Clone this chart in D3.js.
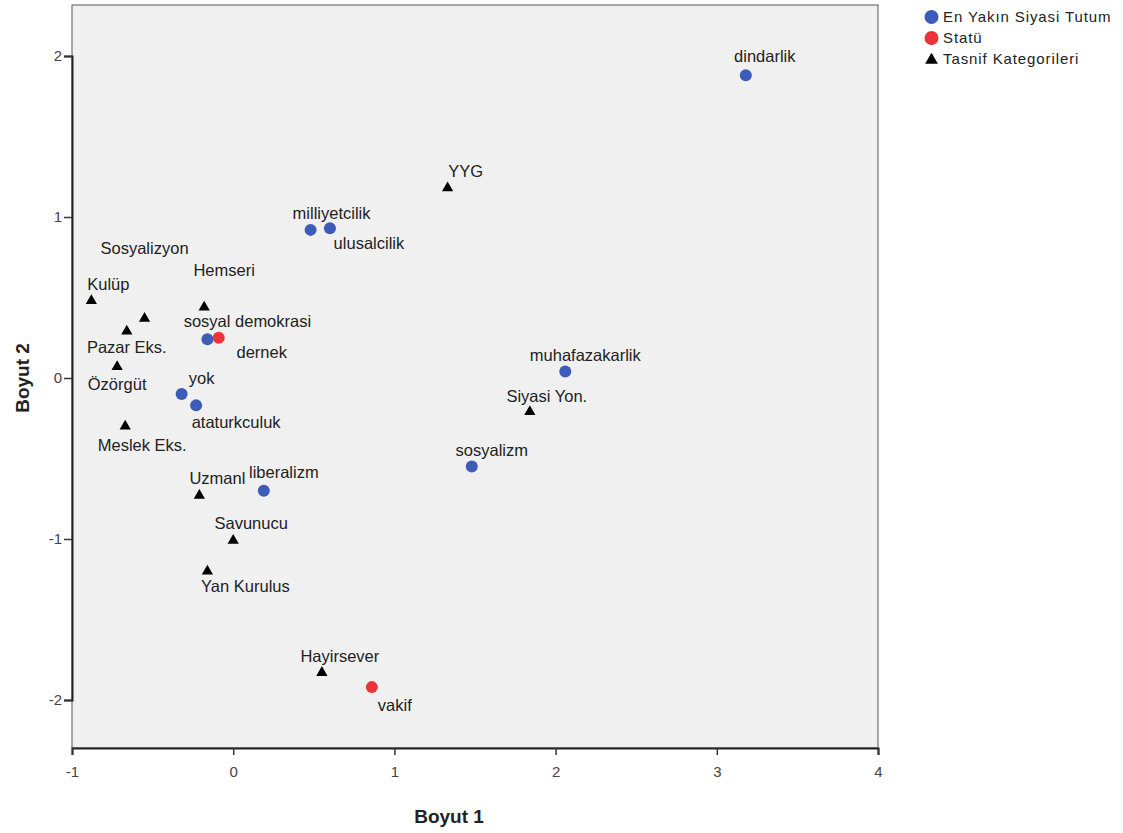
<!DOCTYPE html>
<html><head><meta charset="utf-8">
<script src="https://cdn.jsdelivr.net/npm/d3@7"></script>
<style>body{margin:0;background:#fff;} text{font-family:"Liberation Sans",Arial,sans-serif;}</style>
</head><body><svg id="c" width="1123" height="833"></svg>
<script>
// Data
const tutumNames = ["dindarlik","milliyetcilik","ulusalcilik","sosyal demokrasi","yok","ataturkculuk","liberalizm","muhafazakarlik","sosyalizm"];
const tutumX = [3.18,0.48,0.60,-0.16,-0.32,-0.23,0.19,2.06,1.48];
const tutumY = [1.88,0.92,0.93,0.24,-0.10,-0.17,-0.70,0.04,-0.55];
const statuNames = ["dernek","vakif"];
const statuX = [-0.09,0.86];
const statuY = [0.25,-1.92];
const tasnifNames = ["YYG","Hemseri","Kulüp","Sosyalizyon","Pazar Eks.","Özörgüt","Meslek Eks.","Siyasi Yon.","Uzmanl","Savunucu","Yan Kurulus","Hayirsever"];
const tasnifX = [1.33,-0.18,-0.88,-0.55,-0.66,-0.72,-0.67,1.84,-0.21,0.00,-0.16,0.55];
const tasnifY = [1.18,0.44,0.48,0.37,0.29,0.07,-0.30,-0.21,-0.73,-1.01,-1.20,-1.83];
const xTicks = [-1,0,1,2,3,4];
const yTicks = [-2,-1,0,1,2];
const legendLabels = ["En Yakın Siyasi Tutum","Statü","Tasnif Kategorileri"];

// label placement offsets (px, label centre relative to mark)
const tutumLabelOff = [[19,-19],[21,-17],[39,15],[40,-18],[20,-16],[40,17],[20,-19],[20,-17],[20,-17]];
const statuLabelOff = [[43,14],[23,18]];
const tasnifLabelOff = [[18,-17],[20,-37],[17,-17],[0,-70],[0,16],[0,17],[17,19],[17,-16],[18,-18],[18,-18],[38,15],[18,-17]];

const svg = d3.select("#c");
const L=72, R=878, T=5, B=748;
const x = d3.scaleLinear().domain([-1,4]).range([L,R]);
const y = d3.scaleLinear().domain([-2,2]).range([700,56]);

svg.append("rect").attr("x",L).attr("y",T).attr("width",R-L).attr("height",B-T).attr("fill","#f0f0f0").attr("stroke","#555").attr("stroke-width",1);

const fmt = d => String(d);
const xa = svg.append("g").attr("transform",`translate(0,${B})`).call(d3.axisBottom(x).tickValues(xTicks).tickSize(7).tickPadding(11).tickFormat(fmt));
const ya = svg.append("g").attr("transform",`translate(${L},0)`).call(d3.axisLeft(y).tickValues(yTicks).tickSize(8).tickPadding(2).tickFormat(fmt));
[xa,ya].forEach(a=>{a.select(".domain").attr("stroke","#222").attr("stroke-width",2);a.selectAll(".tick line").attr("stroke","#333").attr("stroke-width",1.5);a.selectAll(".tick text").attr("fill","#444").attr("font-size",15).attr("font-family","Liberation Sans, Arial, sans-serif");});

svg.append("text").attr("x",449).attr("y",823).attr("text-anchor","middle").attr("font-size",19).attr("font-weight","bold").attr("fill","#222").text("Boyut 1");
svg.append("text").attr("transform","translate(29,378) rotate(-90)").attr("text-anchor","middle").attr("font-size",19).attr("font-weight","bold").attr("fill","#222").text("Boyut 2");

const BLUE="#3d5bb8", RED="#ee3239";
const tri = d3.symbol().type(d3.symbolTriangle).size(55);

function labels(names,xs,ys,off){
  svg.append("g").selectAll("text").data(names).join("text")
    .attr("x",(d,i)=>x(xs[i])+off[i][0]).attr("y",(d,i)=>y(ys[i])+off[i][1]+6)
    .attr("text-anchor","middle").attr("font-size",16.5).attr("fill","#222").text(d=>d);
}
svg.append("g").selectAll("path").data(tasnifNames).join("path").attr("d",tri)
  .attr("transform",(d,i)=>`translate(${x(tasnifX[i])},${y(tasnifY[i])})`).attr("fill","#000");
svg.append("g").selectAll("circle").data(tutumNames).join("circle")
  .attr("cx",(d,i)=>x(tutumX[i])).attr("cy",(d,i)=>y(tutumY[i])).attr("r",6).attr("fill",BLUE);
svg.append("g").selectAll("circle").data(statuNames).join("circle")
  .attr("cx",(d,i)=>x(statuX[i])).attr("cy",(d,i)=>y(statuY[i])).attr("r",6).attr("fill",RED);
labels(tutumNames,tutumX,tutumY,tutumLabelOff);
labels(statuNames,statuX,statuY,statuLabelOff);
labels(tasnifNames,tasnifX,tasnifY,tasnifLabelOff);

// legend
const lg = svg.append("g");
const lyy=[17,38,59];
legendLabels.forEach((t,i)=>{
  if(i<2) lg.append("circle").attr("cx",931.5).attr("cy",lyy[i]).attr("r",7).attr("fill",i==0?BLUE:RED);
  else lg.append("path").attr("d",d3.symbol().type(d3.symbolTriangle).size(70)).attr("transform",`translate(931.5,${lyy[i]+1})`).attr("fill","#000");
  lg.append("text").attr("x",943).attr("y",lyy[i]+5).attr("font-size",15).attr("letter-spacing",0.9).attr("fill","#222").text(t);
});
</script></body></html>
